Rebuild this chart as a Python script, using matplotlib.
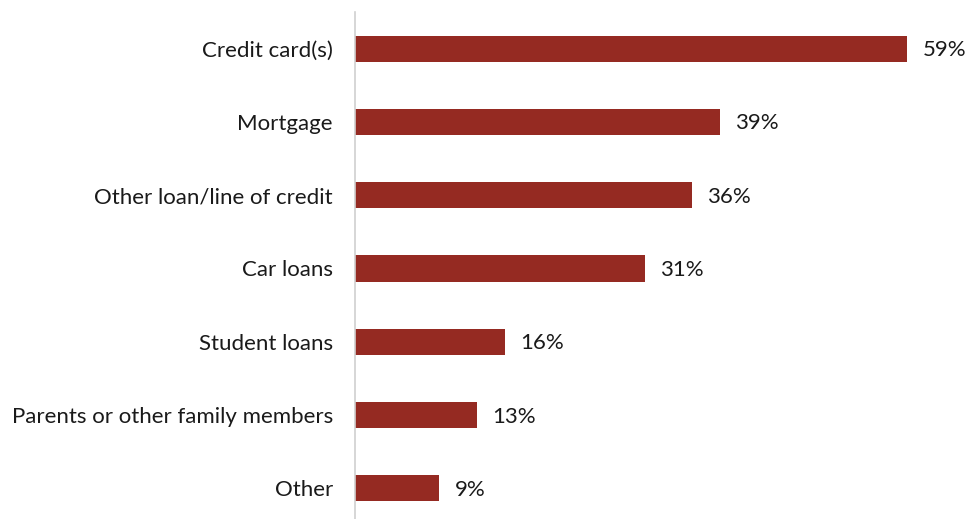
import matplotlib
matplotlib.use("Agg")
import matplotlib.pyplot as plt

categories = ["Credit card(s)", "Mortgage", "Other loan/line of credit", "Car loans",
              "Student loans", "Parents or other family members", "Other"]
values = [59, 39, 36, 31, 16, 13, 9]
value_labels = ["59%", "39%", "36%", "31%", "16%", "13%", "9%"]

plt.rcParams["font.family"] = ["Lato", "DejaVu Sans"]

W, H = 968, 519
fig = plt.figure(figsize=(W / 100, H / 100), dpi=100)
left = 355 / W
ax = fig.add_axes([left, -6 / H, 1 - left, (H - 12 + 6) / H])

bar_color = "#952A22"
ypos = list(range(len(categories)))
ax.barh(ypos, values, height=0.355, color=bar_color)
ax.set_ylim(len(categories) - 0.5, -0.5)
ax.set_xlim(0, (W - 355) / 9.356)

for y, v, lab in zip(ypos, values, value_labels):
    ax.text(v + 1.65, y + 0.02, lab, va="center", ha="left", fontsize=16, color="#1a1a1a")

ax.set_yticks(ypos)
ax.set_yticklabels(categories, fontsize=16, color="#1a1a1a")
ax.tick_params(axis="y", length=0, pad=16)
ax.set_xticks([])
for s in ["top", "right", "bottom"]:
    ax.spines[s].set_visible(False)
ax.spines["left"].set_color("#d0d0d0")
ax.spines["left"].set_linewidth(1.2)

fig.savefig("out.png", dpi=100)
